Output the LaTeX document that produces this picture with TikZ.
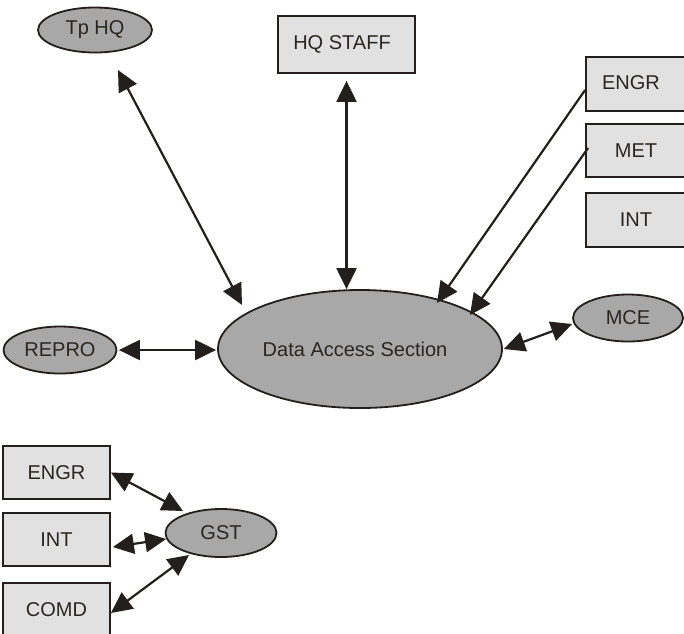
\documentclass[tikz,border=0pt]{standalone}
\usepackage{fontspec}
\setmainfont{Liberation Sans}
\usetikzlibrary{shapes.geometric,arrows.meta,calc}
\definecolor{inkc}{HTML}{231F1C}
\definecolor{ellfill}{HTML}{A8A8A8}
\definecolor{boxfill}{HTML}{E1E1E1}
\definecolor{txtc}{HTML}{2A2622}
\begin{document}
\begin{tikzpicture}[x=1pt,y=-1pt,
  every node/.style={font=\fontsize{20}{24}\selectfont, text=txtc, inner sep=0pt},
  oval/.style={ellipse, draw=inkc, line width=1.8pt, fill=ellfill},
  sqbox/.style={rectangle, draw=inkc, line width=1.8pt, fill=boxfill},
  conn/.style={draw=inkc, line width=2.2pt},
  bi/.style={conn, {Triangle[length=21pt,width=20pt]}-{Triangle[length=21pt,width=20pt]}},
  uni/.style={conn, -{Triangle[length=21pt,width=20pt]}}]
\clip (0,0) rectangle (684,633);
\fill[white] (0,0) rectangle (684,633);
% nodes
\node[oval, minimum width=114pt, minimum height=45pt] (tphq) at (95,30) {Tp HQ};
\node[sqbox, minimum width=137pt, minimum height=57pt] (hqstaff) at (346.5,44.5) {\raisebox{3pt}{HQ STAFF\hspace{9pt}}};
\node[sqbox, minimum width=100pt, minimum height=54pt] (engrR) at (636,84) {\raisebox{3pt}{ENGR\hspace{10pt}}};
\node[sqbox, minimum width=100pt, minimum height=53pt] (metR) at (636,150.5) {MET};
\node[sqbox, minimum width=100pt, minimum height=54pt] (intR) at (636,220) {INT};
\node[oval, minimum width=284pt, minimum height=118pt] (das) at (360,349) {\hspace{-10pt}Data Access Section};
\node[oval, minimum width=110pt, minimum height=47pt] (mce) at (628,318) {MCE};
\node[oval, minimum width=113pt, minimum height=47pt] (repro) at (60,350) {REPRO};
\node[sqbox, minimum width=107pt, minimum height=53pt] (engrL) at (56.5,472.5) {ENGR};
\node[sqbox, minimum width=107pt, minimum height=53pt] (intL) at (56.5,539.5) {INT};
\node[sqbox, minimum width=107pt, minimum height=53pt] (comdL) at (56.5,609.5) {COMD};
\node[oval, minimum width=111pt, minimum height=48pt] (gst) at (221,533) {GST};
% connectors
\draw[bi] ($(tphq)+(23,40)$) -- ($(das)+(-118,-44)$);
\draw[bi] ($(hqstaff.south)+(0,7)$) -- (hqstaff.south |- das.north);
\draw[uni] ($(engrR.west)+(0,6)$) -- ($(das)+(77,-46)$);
\draw[uni] ($(metR.west)+(3,-2.5)$) -- ($(das)+(110,-34)$);
\draw[bi] ($(das.east)+(1,0)$) -- ($(mce.west)+(0,6)$);
\draw[bi] ($(repro.east)+(1.5,0)$) -- ($(das.west)+(-1,1)$);
\draw[bi] (engrL.east) -- ($(gst)+(-38,-22)$);
\draw[bi] ($(intL.east)+(2,7.5)$) -- ($(gst.west)+(1.5,6)$);
\draw[bi] ($(comdL.east)+(0,3.5)$) -- ($(gst)+(-32,22)$);
\end{tikzpicture}
\end{document}
